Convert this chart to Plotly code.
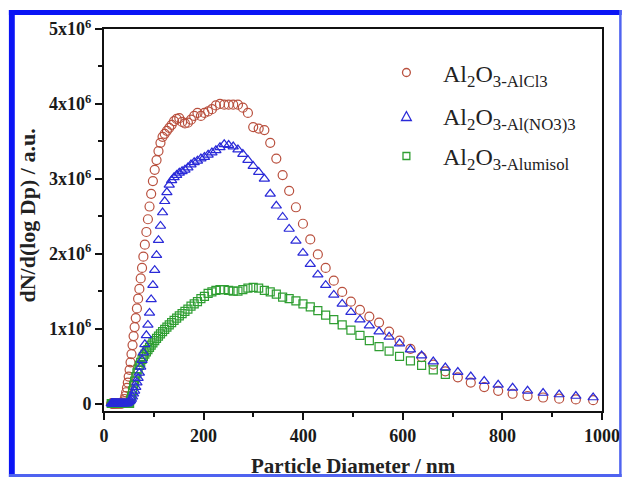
import plotly.graph_objects as go

# ---------------- data ----------------
diameter_nm = [14.6, 15.1, 15.7, 16.3, 16.8, 17.5, 18.1, 18.8, 19.5, 20.2,
               20.9, 21.7, 22.5, 23.3, 24.1, 25.0, 25.9, 26.9, 27.9, 28.9,
               30.0, 31.1, 32.2, 33.4, 34.6, 35.9, 37.2, 38.5, 40.0, 41.4,
               42.9, 44.5, 46.1, 47.8, 49.6, 51.4, 53.3, 55.2, 57.3, 59.4,
               61.5, 63.8, 66.1, 68.5, 71.0, 73.7, 76.4, 79.1, 82.0, 85.1,
               88.2, 91.4, 94.7, 98.2, 101.8, 105.5, 109.4, 113.4, 117.6, 121.9,
               126.3, 131.0, 135.8, 140.7, 145.9, 151.2, 156.8, 162.5, 168.5, 174.7,
               181.1, 187.7, 194.6, 201.7, 209.1, 216.7, 224.7, 232.9, 241.4, 250.3,
               259.5, 269.0, 278.8, 289.0, 299.6, 310.6, 322.0, 333.8, 346.0, 358.7,
               371.8, 385.4, 399.5, 414.2, 429.4, 445.1, 461.4, 478.3, 495.8, 514.0,
               532.8, 552.3, 572.5, 593.5, 615.3, 637.8, 661.2, 685.4, 710.5, 736.5,
               763.5, 791.5, 820.5, 850.5, 881.7, 914.0, 947.5, 982.2]

# dN/d(log Dp), in units of 1e6
alcl3 = [0, 0, 0, 0, 0, 0, 0, 0, 0, 0,
         0, 0, 0, 0, 0, 0, 0, 0, 0, 0,
         0, 0, 0, 0, 0, 0, 0, 0.01, 0.03, 0.06,
         0.10, 0.15, 0.21, 0.28, 0.36, 0.45, 0.55, 0.66, 0.78, 0.90,
         1.02, 1.14, 1.27, 1.40, 1.53, 1.67, 1.81, 1.96, 2.12, 2.29,
         2.46, 2.63, 2.80, 2.97, 3.12, 3.25, 3.37, 3.48, 3.56, 3.60,
         3.64, 3.68, 3.72, 3.77, 3.80, 3.81, 3.76, 3.74, 3.75, 3.79,
         3.84, 3.88, 3.84, 3.88, 3.90, 3.93, 3.98, 4.00, 3.99, 3.99,
         3.99, 3.99, 3.95, 3.88, 3.69, 3.67, 3.65, 3.48, 3.27, 3.05,
         2.84, 2.62, 2.40, 2.19, 1.99, 1.81, 1.64, 1.49, 1.36, 1.25,
         1.16, 1.08, 0.96, 0.84, 0.73, 0.62, 0.52, 0.43, 0.35, 0.28,
         0.22, 0.17, 0.13, 0.10, 0.08, 0.065, 0.055, 0.045]

alno33 = [0, 0, 0, 0, 0, 0, 0, 0, 0, 0,
          0, 0, 0, 0, 0, 0, 0, 0, 0, 0,
          0, 0, 0, 0, 0, 0, 0, 0, 0, 0,
          0, 0, 0, 0.01, 0.02, 0.03, 0.04, 0.06, 0.09, 0.13,
          0.17, 0.22, 0.28, 0.34, 0.41, 0.49, 0.58, 0.68, 0.79, 0.91,
          1.05, 1.21, 1.39, 1.58, 1.78, 1.98, 2.18, 2.37, 2.55, 2.70,
          2.82, 2.92, 2.98, 3.02, 3.05, 3.08, 3.10, 3.12, 3.15, 3.19,
          3.22, 3.24, 3.27, 3.29, 3.32, 3.35, 3.38, 3.42, 3.46, 3.45,
          3.43, 3.39, 3.33, 3.25, 3.17, 3.09, 3.00, 2.80, 2.64, 2.49,
          2.33, 2.17, 2.01, 1.86, 1.72, 1.58, 1.45, 1.33, 1.22, 1.12,
          1.04, 0.96, 0.89, 0.80, 0.72, 0.64, 0.56, 0.48, 0.42, 0.36,
          0.30, 0.25, 0.21, 0.17, 0.14, 0.12, 0.10, 0.08]

alumisol = [0, 0, 0, 0, 0, 0, 0, 0, 0, 0,
            0, 0, 0, 0, 0, 0, 0, 0, 0, 0,
            0, 0, 0, 0, 0, 0, 0, 0, 0, 0,
            0, 0, 0, 0, 0, 0, 0.05, 0.10, 0.17, 0.24,
            0.30, 0.36, 0.41, 0.46, 0.51, 0.55, 0.59, 0.63, 0.66, 0.69,
            0.72, 0.75, 0.78, 0.81, 0.84, 0.87, 0.90, 0.93, 0.96, 0.99,
            1.02, 1.05, 1.08, 1.11, 1.14, 1.17, 1.20, 1.23, 1.26, 1.30,
            1.33, 1.36, 1.40, 1.43, 1.47, 1.49, 1.51, 1.52, 1.52, 1.51,
            1.50, 1.50, 1.52, 1.54, 1.55, 1.54, 1.51, 1.49, 1.46, 1.42,
            1.40, 1.37, 1.33, 1.29, 1.24, 1.18, 1.12, 1.05, 0.98, 0.91,
            0.84, 0.76, 0.70, 0.63, 0.57, 0.51, 0.45, 0.39]

series_labels = ["Al<sub>2</sub>O<sub>3-AlCl3</sub>",
                 "Al<sub>2</sub>O<sub>3-Al(NO3)3</sub>",
                 "Al<sub>2</sub>O<sub>3-Alumisol</sub>"]
x_tick_vals = [0, 200, 400, 600, 800, 1000]
x_tick_text = ["0", "200", "400", "600", "800", "1000"]
y_tick_vals = [0, 1, 2, 3, 4, 5]
y_tick_text = ["0", "1x10<sup>6</sup>", "2x10<sup>6</sup>", "3x10<sup>6</sup>",
               "4x10<sup>6</sup>", "5x10<sup>6</sup>"]

# ---------------- styling ----------------
W, H = 632, 477
ML, MR, MT, MB = 104, 20, 29, 66
PW, PH = W - ML - MR, H - MT - MB

def px(xp):
    return (xp - ML) / PW

def py(yp):
    return (H - MB - yp) / PH

RED, BLUE, GREEN = "#b9503e", "#2a2ad8", "#2f9e32"
SERIF = "Liberation Serif, Times New Roman, serif"

fig = go.Figure()
specs = [(alcl3, RED, "circle-open", 9),
         (alumisol, GREEN, "square-open", 8),
         (alno33, BLUE, "triangle-up-open", 9)]
for vals, col, sym, sz in specs:
    n = len(vals)
    fig.add_trace(go.Scatter(
        x=diameter_nm[:n], y=[v * 1e6 for v in vals], mode="markers",
        marker=dict(symbol=sym, size=sz, color=col, line=dict(width=1.2, color=col)),
        showlegend=False, hoverinfo="skip"))

axis_common = dict(showline=True, linecolor="#111", linewidth=2, mirror=True,
                   ticks="outside", ticklen=7, tickwidth=2, tickcolor="#111",
                   showgrid=False, zeroline=False,
                   tickfont=dict(family=SERIF, size=18, color="#1a1a1a"))

fig.update_xaxes(range=[0, 1000], tickvals=x_tick_vals,
                 ticktext=[f"<b>{t}</b>" for t in x_tick_text],
                 minor=dict(dtick=100, tick0=0, ticks="outside", ticklen=4,
                            tickwidth=2, tickcolor="#111"),
                 **axis_common)
fig.update_yaxes(range=[-0.1e6, 5e6], tickvals=[v * 1e6 for v in y_tick_vals],
                 ticktext=[f"<b>{t}</b>" for t in y_tick_text],
                 minor=dict(dtick=0.5e6, tick0=0, ticks="outside", ticklen=4,
                            tickwidth=2, tickcolor="#111"),
                 **axis_common)

annotations = [
    dict(text="<b>Particle Diameter / nm</b>", x=px(358), y=py(452), xref="paper", yref="paper",
         xanchor="center", yanchor="top", showarrow=False,
         font=dict(family=SERIF, size=21, color="#222")),
    dict(text="<b>dN/d(log Dp) / a.u.</b>", x=px(25), y=py(216), xref="paper", yref="paper",
         xanchor="center", yanchor="middle", textangle=-90, showarrow=False,
         font=dict(family=SERIF, size=22, color="#222")),
]
legend_y = [74, 117, 157]
for lab, yy in zip(series_labels, legend_y):
    annotations.append(dict(text=lab, x=px(448), y=py(yy + 2), xref="paper", yref="paper",
                            xanchor="left", yanchor="middle", showarrow=False,
                            font=dict(family=SERIF, size=24, color="#222")))

shapes = []
# legend symbols
cx = 412.5
r = 4
shapes.append(dict(type="circle", xref="paper", yref="paper",
                   x0=px(cx - r), x1=px(cx + r), y0=py(72.5 + r), y1=py(72.5 - r),
                   line=dict(color=RED, width=1.3)))
ty = 116
shapes.append(dict(type="path", xref="paper", yref="paper",
                   path=f"M {px(cx-5)},{py(ty+4.5)} L {px(cx+5)},{py(ty+4.5)} L {px(cx)},{py(ty-4.5)} Z",
                   line=dict(color=BLUE, width=1.3)))
sy = 156
shapes.append(dict(type="rect", xref="paper", yref="paper",
                   x0=px(cx - 3.5), x1=px(cx + 3.5), y0=py(sy + 3.5), y1=py(sy - 3.5),
                   line=dict(color=GREEN, width=1.3)))

# blue picture frame
def rect(x0, y0, x1, y1, col):
    return dict(type="rect", xref="paper", yref="paper", layer="above",
                x0=px(x0), x1=px(x1), y0=py(y1), y1=py(y0),
                fillcolor=col, line=dict(width=0))
shapes += [rect(7, 10, 13, 477, "#0a14f5"),
           rect(7, 10, 632, 15, "#0a14f5"),
           rect(629.5, 10, 632, 477, "#4f63f0"),
           rect(7, 474, 632, 477, "#4f63f0")]

fig.update_layout(width=W, height=H, margin=dict(l=ML, r=MR, t=MT, b=MB),
                  paper_bgcolor="white", plot_bgcolor="white",
                  font=dict(family=SERIF, size=18, color="#1a1a1a"),
                  annotations=annotations, shapes=shapes, showlegend=False)

fig.write_html("out.html")
